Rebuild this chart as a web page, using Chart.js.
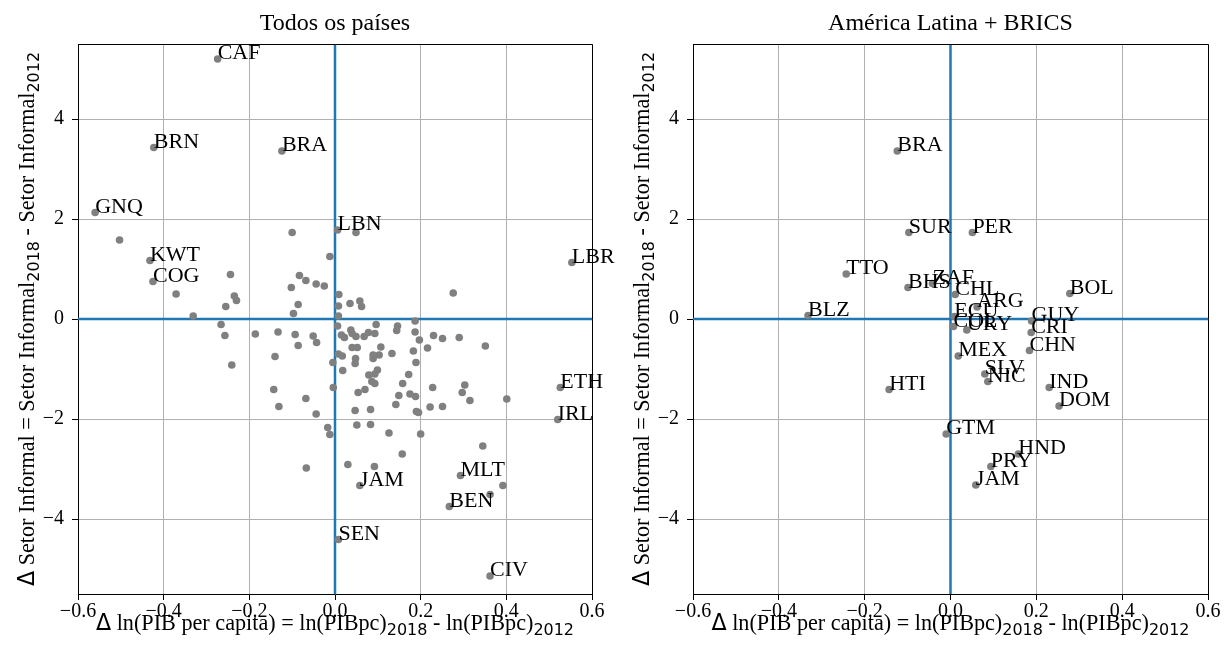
<!DOCTYPE html>
<html>
<head>
<meta charset="utf-8">
<script src="https://cdn.jsdelivr.net/npm/chart.js@4.4.1/dist/chart.umd.min.js"></script>
<style>
  html, body { margin: 0; padding: 0; background: #fff; }
  #wrap { position: relative; width: 1231px; height: 656px; }
  .panel { position: absolute; top: 0; height: 656px; }
</style>
</head>
<body>
<div id="wrap">
  <div class="panel" style="left:0;width:615px"><canvas id="left"></canvas></div>
  <div class="panel" style="left:615px;width:616px"><canvas id="right"></canvas></div>
</div>
<script>
// axis ticks
const xTicks = [-0.6, -0.4, -0.2, 0.0, 0.2, 0.4, 0.6];
const yTicks = [-4, -2, 0, 2, 4];
const xRange = [-0.6, 0.6];
const yRange = [-5.5, 5.5];

// "Todos os países" - empty code = point without label
const leftCodes = [
  'CAF', 'BRN', 'BRA', 'GNQ', 'KWT', 'COG', 'LBN', 'LBR', 'ETH', 'IRL', 'MLT', 'JAM', 'BEN', 'SEN', 'CIV',
  '', '', '', '', '', '', '', '', '', '', '', '', '', '', '', '', '', '', '', '',
  '', '', '', '', '', '', '', '', '', '', '', '', '', '', '', '', '', '', '', '',
  '', '', '', '', '', '', '', '', '', '', '', '', '', '', '', '', '', '', '', '',
  '', '', '', '', '', '', '', '', '', '', '', '', '', '', '', '', '', '', '', '',
  '', '', '', '', '', '', '', '', '', '', '', '', '', '', '', '', '', '', '', '',
  '', '', '', '', '', '', '', '', '', '', ''
];
const leftX = [
  -0.274, -0.423, -0.124, -0.560, -0.432, -0.425, 0.006, 0.553, 0.526, 0.520, 0.293, 0.058, 0.267, 0.008, 0.362,
  -0.503, -0.371, -0.331, -0.244, -0.235, -0.230, -0.255, -0.266, -0.257, -0.186, -0.133, -0.093, -0.051, -0.043, -0.086, -0.140, -0.241, -0.143, -0.068, -0.004,
  -0.005, -0.100, -0.012, 0.049, -0.083, -0.068, -0.044, -0.025, -0.102, -0.086, -0.097, 0.009, 0.035, 0.058, 0.062, 0.008, 0.008, 0.276, 0.187, 0.096,
  0.146, 0.144, 0.006, 0.037, 0.040, 0.015, 0.022, 0.049, 0.068, 0.078, 0.093, 0.187, 0.197, 0.230, 0.251, 0.290, 0.351, 0.216, 0.183, 0.133,
  0.107, 0.040, 0.052, 0.089, 0.103, 0.089, 0.008, 0.017, 0.048, 0.047, 0.189, 0.018, 0.099, 0.093, 0.079, 0.086, 0.093, 0.172, 0.158, 0.303,
  0.297, 0.228, 0.070, 0.054, -0.044, 0.149, 0.175, 0.188, 0.142, 0.222, 0.251, 0.315, 0.401, 0.047, 0.083, 0.190, 0.195, -0.017, -0.012, 0.051,
  0.083, 0.126, 0.200, 0.345, 0.157, -0.131, -0.067, 0.030, 0.092, 0.362, 0.392
];
const leftY = [
  5.20, 3.43, 3.36, 2.13, 1.17, 0.75, 1.78, 1.13, -1.37, -2.01, -3.13, -3.33, -3.75, -4.41, -5.14,
  1.58, 0.50, 0.06, 0.89, 0.46, 0.37, 0.25, -0.11, -0.33, -0.30, -0.26, -0.31, -0.34, -0.47, -0.53, -0.75, -0.92, -1.41, -1.59, -1.37,
  -0.87, 1.73, 1.25, 1.73, 0.87, 0.77, 0.70, 0.66, 0.63, 0.29, 0.11, 0.49, 0.31, 0.36, 0.25, 0.26, 0.06, 0.52, -0.04, -0.11,
  -0.14, -0.23, -0.14, -0.22, -0.29, -0.32, -0.37, -0.35, -0.35, -0.27, -0.29, -0.26, -0.42, -0.33, -0.39, -0.37, -0.54, -0.58, -0.64, -0.69,
  -0.56, -0.57, -0.57, -0.72, -0.72, -0.79, -0.70, -0.74, -0.79, -0.89, -0.87, -1.03, -1.02, -1.10, -1.12, -1.25, -1.29, -1.11, -1.29, -1.32,
  -1.47, -1.37, -1.41, -1.47, -1.90, -1.53, -1.50, -1.55, -1.71, -1.76, -1.75, -1.63, -1.60, -1.83, -1.81, -1.85, -1.87, -2.17, -2.31, -2.12,
  -2.11, -2.28, -2.30, -2.54, -2.70, -1.75, -2.98, -2.91, -2.95, -3.51, -3.33
];

// "América Latina + BRICS"
const rightCodes = ['BRA', 'SUR', 'PER', 'TTO', 'BHS', 'ZAF', 'BLZ', 'CHL', 'ARG', 'BOL', 'ECU', 'COL', 'URY',
  'GUY', 'CRI', 'CHN', 'MEX', 'SLV', 'NIC', 'HTI', 'IND', 'DOM', 'GTM', 'HND', 'PRY', 'JAM'];
const rightX = [-0.124, -0.097, 0.051, -0.243, -0.099, -0.042, -0.332, 0.011, 0.062, 0.278, 0.009, 0.007, 0.038,
  0.189, 0.188, 0.184, 0.018, 0.080, 0.087, -0.143, 0.230, 0.253, -0.010, 0.158, 0.094, 0.059];
const rightY = [3.36, 1.73, 1.73, 0.90, 0.63, 0.71, 0.07, 0.49, 0.24, 0.51, 0.05, -0.15, -0.22,
  -0.04, -0.27, -0.63, -0.74, -1.10, -1.25, -1.41, -1.37, -1.74, -2.30, -2.70, -2.95, -3.32];

const SERIF = '"Liberation Serif", "Times New Roman", serif';
const SANS = '"DejaVu Sans", sans-serif';
const TICK = 20;
const NOTE = 22;
const LABEL = 22.2;

const xLabelParts = [
  { t: 'Δ', f: SANS }, { t: ' ln(PIB per capita) = ln(PIBpc)' }, { t: '2018', sub: true },
  { t: ' - ln(PIBpc)' }, { t: '2012', sub: true }
];
const yLabelParts = [
  { t: 'Δ', f: SANS }, { t: ' Setor Informal = Setor Informal' }, { t: '2018', sub: true },
  { t: ' - Setor Informal' }, { t: '2012', sub: true }
];

function fontOf(p) {
  if (p.sub) return (LABEL * 0.72) + 'px ' + SANS;
  return LABEL + 'px ' + (p.f || SERIF);
}

// draws text with subscripts centred on (0,0) of the current transform
function drawRich(ctx, parts) {
  let w = 0;
  parts.forEach(p => { ctx.font = fontOf(p); w += ctx.measureText(p.t).width; });
  let x = -w / 2;
  parts.forEach(p => {
    ctx.font = fontOf(p);
    ctx.fillText(p.t, x, p.sub ? 5 : 0);
    x += ctx.measureText(p.t).width;
  });
}

const decor = {
  id: 'decor',
  afterDatasetsDraw(chart, args, opts) {
    const ctx = chart.ctx;
    const xs = chart.scales.x, ys = chart.scales.y;
    ctx.save();
    ctx.fillStyle = '#000';
    ctx.font = NOTE + 'px ' + SERIF;
    ctx.textAlign = 'left';
    ctx.textBaseline = 'alphabetic';
    opts.codes.forEach((c, i) => {
      if (!c) return;
      ctx.fillText(c, xs.getPixelForValue(opts.xv[i]), ys.getPixelForValue(opts.yv[i]));
    });
    ctx.restore();
  },
  afterDraw(chart, args, opts) {
    const ctx = chart.ctx;
    const a = chart.chartArea;
    ctx.save();
    // top and right spines
    ctx.strokeStyle = '#000';
    ctx.lineWidth = 1;
    ctx.beginPath();
    ctx.moveTo(a.left, a.top + 0.5);
    ctx.lineTo(a.right + 0.5, a.top + 0.5);
    ctx.lineTo(a.right + 0.5, a.bottom);
    ctx.stroke();
    // title
    ctx.fillStyle = '#000';
    ctx.textBaseline = 'alphabetic';
    ctx.font = '24px ' + SERIF;
    ctx.textAlign = 'center';
    ctx.fillText(opts.title, (a.left + a.right) / 2, 30);
    ctx.textAlign = 'left';
    // x axis label
    ctx.save();
    ctx.translate((a.left + a.right) / 2, 630);
    drawRich(ctx, xLabelParts);
    ctx.restore();
    // y axis label
    ctx.save();
    ctx.translate(34, (a.top + a.bottom) / 2);
    ctx.rotate(-Math.PI / 2);
    drawRich(ctx, yLabelParts);
    ctx.restore();
    ctx.restore();
  }
};

const fmt = (v, d) => (Math.abs(v) < 1e-9 ? 0 : v).toFixed(d).replace('-', '\u2212');

function makeChart(id, title, codes, xv, yv) {
  const pts = xv.map((x, i) => ({ x: x, y: yv[i] }));
  return new Chart(document.getElementById(id), {
    type: 'scatter',
    data: {
      datasets: [
        {
          data: pts,
          backgroundColor: '#808080',
          borderWidth: 0,
          pointRadius: 3.8,
          order: 0
        },
        {
          data: [{ x: xRange[0], y: 0 }, { x: xRange[1], y: 0 }],
          showLine: true,
          borderColor: '#1f77b4',
          borderWidth: 2.5,
          pointRadius: 0,
          order: 1
        },
        {
          data: [{ x: 0, y: yRange[0] }, { x: 0, y: yRange[1] }],
          showLine: true,
          borderColor: '#1f77b4',
          borderWidth: 2.5,
          pointRadius: 0,
          order: 1
        }
      ]
    },
    options: {
      responsive: true,
      maintainAspectRatio: false,
      animation: false,
      devicePixelRatio: 1,
      layout: { padding: { left: 0, right: 23, top: 44, bottom: 0 } },
      plugins: {
        legend: { display: false },
        tooltip: { enabled: false },
        decor: { title: title, codes: codes, xv: xv, yv: yv }
      },
      scales: {
        x: {
          type: 'linear',
          min: xRange[0],
          max: xRange[1],
          afterBuildTicks: s => { s.ticks = xTicks.map(v => ({ value: v })); },
          afterFit: s => { s.height = 62; },
          ticks: {
            callback: v => fmt(v, 1),
            color: '#000',
            font: { family: SERIF, size: TICK },
            padding: 0,
            maxRotation: 0,
            autoSkip: false
          },
          grid: { color: '#b0b0b0', lineWidth: 1, tickColor: '#000', tickLength: 6 },
          border: { color: '#000', width: 1 }
        },
        y: {
          type: 'linear',
          min: yRange[0],
          max: yRange[1],
          afterBuildTicks: s => { s.ticks = yTicks.map(v => ({ value: v })); },
          afterFit: s => { s.width = 78; },
          ticks: {
            callback: v => fmt(v, 0),
            color: '#000',
            font: { family: SERIF, size: TICK },
            padding: 8
          },
          grid: { color: '#b0b0b0', lineWidth: 1, tickColor: '#000', tickLength: 6 },
          border: { color: '#000', width: 1 }
        }
      }
    },
    plugins: [decor]
  });
}

makeChart('left', 'Todos os países', leftCodes, leftX, leftY);
makeChart('right', 'América Latina + BRICS', rightCodes, rightX, rightY);
</script>
</body>
</html>
